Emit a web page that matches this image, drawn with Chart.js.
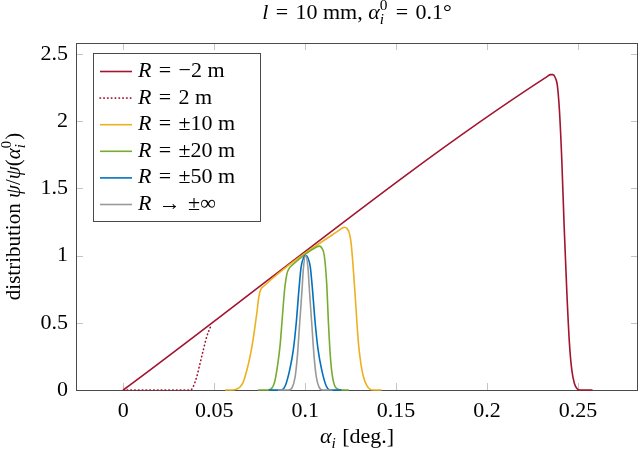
<!DOCTYPE html>
<html>
<head>
<meta charset="utf-8">
<script src="https://cdn.jsdelivr.net/npm/chart.js@4/dist/chart.umd.min.js"></script>
<style>
  body { margin: 0; background: #fff; }
  canvas { display: block; }
</style>
</head>
<body>
<canvas id="dist" width="640" height="452"></canvas>
<script>
// axis ranges and ticks
const xMin = -0.026, xMax = 0.283;
const yMin = 0, yMax = 2.58;
const xTicks = [0, 0.05, 0.1, 0.15, 0.2, 0.25];
const xTickLabels = ['0', '0.05', '0.1', '0.15', '0.2', '0.25'];
const yTicks = [0, 0.5, 1, 1.5, 2, 2.5];
const yTickLabels = ['0', '0.5', '1', '1.5', '2', '2.5'];

// series
const m2X = [0, 0.233, 0.2350, 0.2362, 0.2374, 0.2386, 0.2398, 0.2411, 0.2424, 0.2439, 0.2453, 0.2466, 0.2480, 0.2495, 0.2512, 0.2580];
const m2Y = [0, 2.33, 2.345, 2.345, 2.325, 2.27, 2.08, 1.71, 1.215, 0.72, 0.347, 0.149, 0.05, 0.01, 0, 0];

const p2X = [0, 0.036, 0.0375, 0.0386, 0.0404, 0.0422, 0.0440, 0.0459, 0.0483];
const p2Y = [0, 0, 0.004, 0.03, 0.099, 0.198, 0.298, 0.397, 0.483];

const r10X = [0.056, 0.060, 0.0625, 0.064, 0.066, 0.068, 0.0697, 0.0712, 0.0724, 0.0735, 0.0745, 0.0755, 0.0775, 0.119, 0.1215, 0.1230, 0.1242, 0.1252, 0.1262, 0.1274, 0.1293, 0.1307, 0.1320, 0.1340, 0.1357, 0.1375, 0.142];
const r10Y = [0, 0, 0.008, 0.02, 0.06, 0.15, 0.25, 0.36, 0.471, 0.58, 0.69, 0.745, 0.775, 1.19, 1.21, 1.20, 1.17, 1.10, 0.95, 0.72, 0.347, 0.19, 0.1, 0.03, 0.005, 0, 0];

const r20X = [0.074, 0.0795, 0.0815, 0.0832, 0.0848, 0.0862, 0.0875, 0.0888, 0.0899, 0.0912, 0.0928, 0.1065, 0.1078, 0.1092, 0.1105, 0.1118, 0.1128, 0.1137, 0.1146, 0.1160, 0.1185, 0.1200, 0.124];
const r20Y = [0, 0, 0.01, 0.06, 0.18, 0.33, 0.55, 0.76, 0.86, 0.905, 0.928, 1.065, 1.07, 1.055, 1.0, 0.8, 0.5, 0.28, 0.14, 0.04, 0.003, 0, 0];

const r50X = [0.080, 0.0865, 0.0890, 0.0915, 0.0935, 0.0951, 0.0966, 0.0978, 0.0992, 0.1003, 0.1014, 0.1028, 0.1040, 0.1055, 0.1071, 0.1091, 0.1116, 0.1140, 0.120];
const r50Y = [0, 0, 0.03, 0.15, 0.3, 0.5, 0.75, 0.917, 0.985, 1.0, 0.985, 0.917, 0.75, 0.5, 0.3, 0.15, 0.03, 0, 0];

const infX = [0.085, 0.0908, 0.0929, 0.0945, 0.0957, 0.0970, 0.0983, 0.0990, 0.1003, 0.1016, 0.1023, 0.1036, 0.1049, 0.1061, 0.1077, 0.1098, 0.115];
const infY = [0, 0, 0.02, 0.1, 0.25, 0.5, 0.75, 0.9, 1.0, 0.9, 0.75, 0.5, 0.25, 0.1, 0.02, 0, 0];

const SP = '\u2004';
const legendRest = [SP + '=' + SP + '\u22122 m', SP + '=' + SP + '2 m', SP + '=' + SP + '\u00b110 m',
  SP + '=' + SP + '\u00b120 m', SP + '=' + SP + '\u00b150 m', SP + '\u2192' + SP + '\u00b1\u221e'];
const colors = ['#a2142f', '#a2142f', '#edb120', '#77ac30', '#0072bd', '#999999'];

const FAM = "'Liberation Serif', 'DejaVu Serif', serif";
const FS = 22;

function pts(xs, ys) {
  return xs.map((x, i) => ({x: x, y: ys[i]}));
}

function fnt(it, size) {
  return (it ? 'italic ' : '') + size + 'px ' + FAM;
}

// segments: {t, it} or {sub, sup}
function segW(ctx, s, fs) {
  if (s.t !== undefined) {
    ctx.font = fnt(s.it, fs);
    return ctx.measureText(s.t).width;
  }
  ctx.font = fnt(true, fs * 0.7);
  var w1 = s.sub ? ctx.measureText(s.sub).width : 0;
  ctx.font = fnt(false, fs * 0.7);
  var w2 = s.sup ? ctx.measureText(s.sup).width : 0;
  return Math.max(w1, w2) + 1;
}

function drawMath(ctx, segs, x, y, align, fs) {
  fs = fs || FS;
  var total = 0;
  segs.forEach(s => { total += segW(ctx, s, fs); });
  var cx = align === 'center' ? x - total / 2 : x;
  ctx.fillStyle = '#000';
  ctx.textBaseline = 'alphabetic';
  ctx.textAlign = 'left';
  segs.forEach(s => {
    var w = segW(ctx, s, fs);
    if (s.t !== undefined) {
      ctx.font = fnt(s.it, fs);
      ctx.fillText(s.t, cx, y);
    } else {
      if (s.sub) {
        ctx.font = fnt(true, fs * 0.7);
        ctx.fillText(s.sub, cx, y + 5);
      }
      if (s.sup) {
        ctx.font = fnt(false, fs * 0.7);
        ctx.fillText(s.sup, cx, y - 9);
      }
    }
    cx += w;
  });
}

const decor = {
  id: 'decor',
  beforeDatasetsDraw(chart) {
    const ctx = chart.ctx, a = chart.chartArea;
    const sx = chart.scales.x, sy = chart.scales.y;
    ctx.save();
    // inward tick marks
    ctx.strokeStyle = '#c4c4c4';
    ctx.lineWidth = 1;
    ctx.beginPath();
    xTicks.forEach(v => {
      const px = Math.round(sx.getPixelForValue(v)) + 0.5;
      ctx.moveTo(px, a.bottom); ctx.lineTo(px, a.bottom - 7);
      ctx.moveTo(px, a.top); ctx.lineTo(px, a.top + 7);
    });
    yTicks.forEach(v => {
      const py = Math.round(sy.getPixelForValue(v)) + 0.5;
      ctx.moveTo(a.left, py); ctx.lineTo(a.left + 7, py);
      ctx.moveTo(a.right, py); ctx.lineTo(a.right - 7, py);
    });
    ctx.stroke();
    // frame
    ctx.strokeStyle = '#4a4a4a';
    ctx.strokeRect(Math.round(a.left) + 0.5, Math.round(a.top) + 0.5,
      Math.round(a.right - a.left) - 1, Math.round(a.bottom - a.top));
    ctx.restore();
  },
  afterDraw(chart) {
    const ctx = chart.ctx, a = chart.chartArea;
    const midX = (a.left + a.right) / 2;
    ctx.save();
    // title
    drawMath(ctx, [
      {t: 'l', it: true}, {t: SP + '=' + SP + '10 mm, ', it: false},
      {t: '\u03b1', it: true}, {sub: 'i', sup: '0'},
      {t: SP + '=' + SP + '0.1\u00b0', it: false}
    ], midX, 19, 'center');
    // x title
    drawMath(ctx, [
      {t: '\u03b1', it: true}, {sub: 'i'}, {t: ' [deg.]', it: false}
    ], midX, 443, 'center');
    // y title
    ctx.save();
    ctx.translate(20, (a.top + a.bottom) / 2);
    ctx.rotate(-Math.PI / 2);
    drawMath(ctx, [
      {t: 'distribution ', it: false}, {t: '\u03c8', it: true}, {t: '/', it: false},
      {t: '\u03c8', it: true}, {t: '(', it: false}, {t: '\u03b1', it: true},
      {sub: 'i', sup: '0'}, {t: ')', it: false}
    ], 0, 0, 'center', 21);
    ctx.restore();
    // legend
    const lx = 93.5, ly = 53.5, lw = 167, lh = 168, step = 26.6;
    ctx.fillStyle = '#fff';
    ctx.fillRect(lx, ly, lw, lh);
    ctx.strokeStyle = '#4a4a4a';
    ctx.lineWidth = 1;
    ctx.strokeRect(lx, ly, lw, lh);
    chart.data.datasets.forEach((ds, i) => {
      const base = 77 + i * step;
      const my = base - 5.5;
      ctx.save();
      ctx.strokeStyle = ds.borderColor;
      ctx.lineWidth = 1.6;
      ctx.lineCap = ds.borderDash ? 'round' : 'butt';
      ctx.setLineDash(ds.borderDash || []);
      ctx.beginPath();
      ctx.moveTo(100, my); ctx.lineTo(132, my);
      ctx.stroke();
      ctx.restore();
      drawMath(ctx, [{t: 'R', it: true}, {t: legendRest[i], it: false}], 138, base, 'left');
    });
    ctx.restore();
  }
};

const seriesX = [m2X, p2X, r10X, r20X, r50X, infX];
const seriesY = [m2Y, p2Y, r10Y, r20Y, r50Y, infY];

new Chart('dist', {
  type: 'line',
  data: {
    datasets: seriesX.map((xs, i) => ({
      label: 'R' + legendRest[i],
      data: pts(xs, seriesY[i]),
      borderColor: colors[i],
      borderWidth: 1.6,
      borderDash: i === 1 ? [0.5, 3.3] : undefined,
      borderCapStyle: i === 1 ? 'round' : 'butt',
      cubicInterpolationMode: 'monotone',
      pointRadius: 0,
      fill: false,
      clip: false,
      order: 5 - i
    }))
  },
  options: {
    responsive: false,
    animation: false,
    layout: {padding: {top: 43, right: 2, left: 0, bottom: 0}},
    plugins: {legend: {display: false}, tooltip: {enabled: false}, title: {display: false}},
    scales: {
      x: {
        type: 'linear', min: xMin, max: xMax,
        grid: {display: false}, border: {display: false},
        afterBuildTicks: s => { s.ticks = xTicks.map(v => ({value: v})); },
        afterFit: s => { s.height = 62; },
        ticks: {
          padding: 0, maxRotation: 0, autoSkip: false, color: '#000',
          font: {family: FAM, size: FS},
          callback: (v, i) => xTickLabels[i]
        }
      },
      y: {
        type: 'linear', min: yMin, max: yMax,
        grid: {display: false}, border: {display: false},
        afterBuildTicks: s => { s.ticks = yTicks.map(v => ({value: v})); },
        afterFit: s => { s.width = 76; },
        ticks: {
          padding: 0, autoSkip: false, color: '#000',
          font: {family: FAM, size: FS},
          callback: (v, i) => yTickLabels[i]
        }
      }
    }
  },
  plugins: [decor]
});
</script>
</body>
</html>
